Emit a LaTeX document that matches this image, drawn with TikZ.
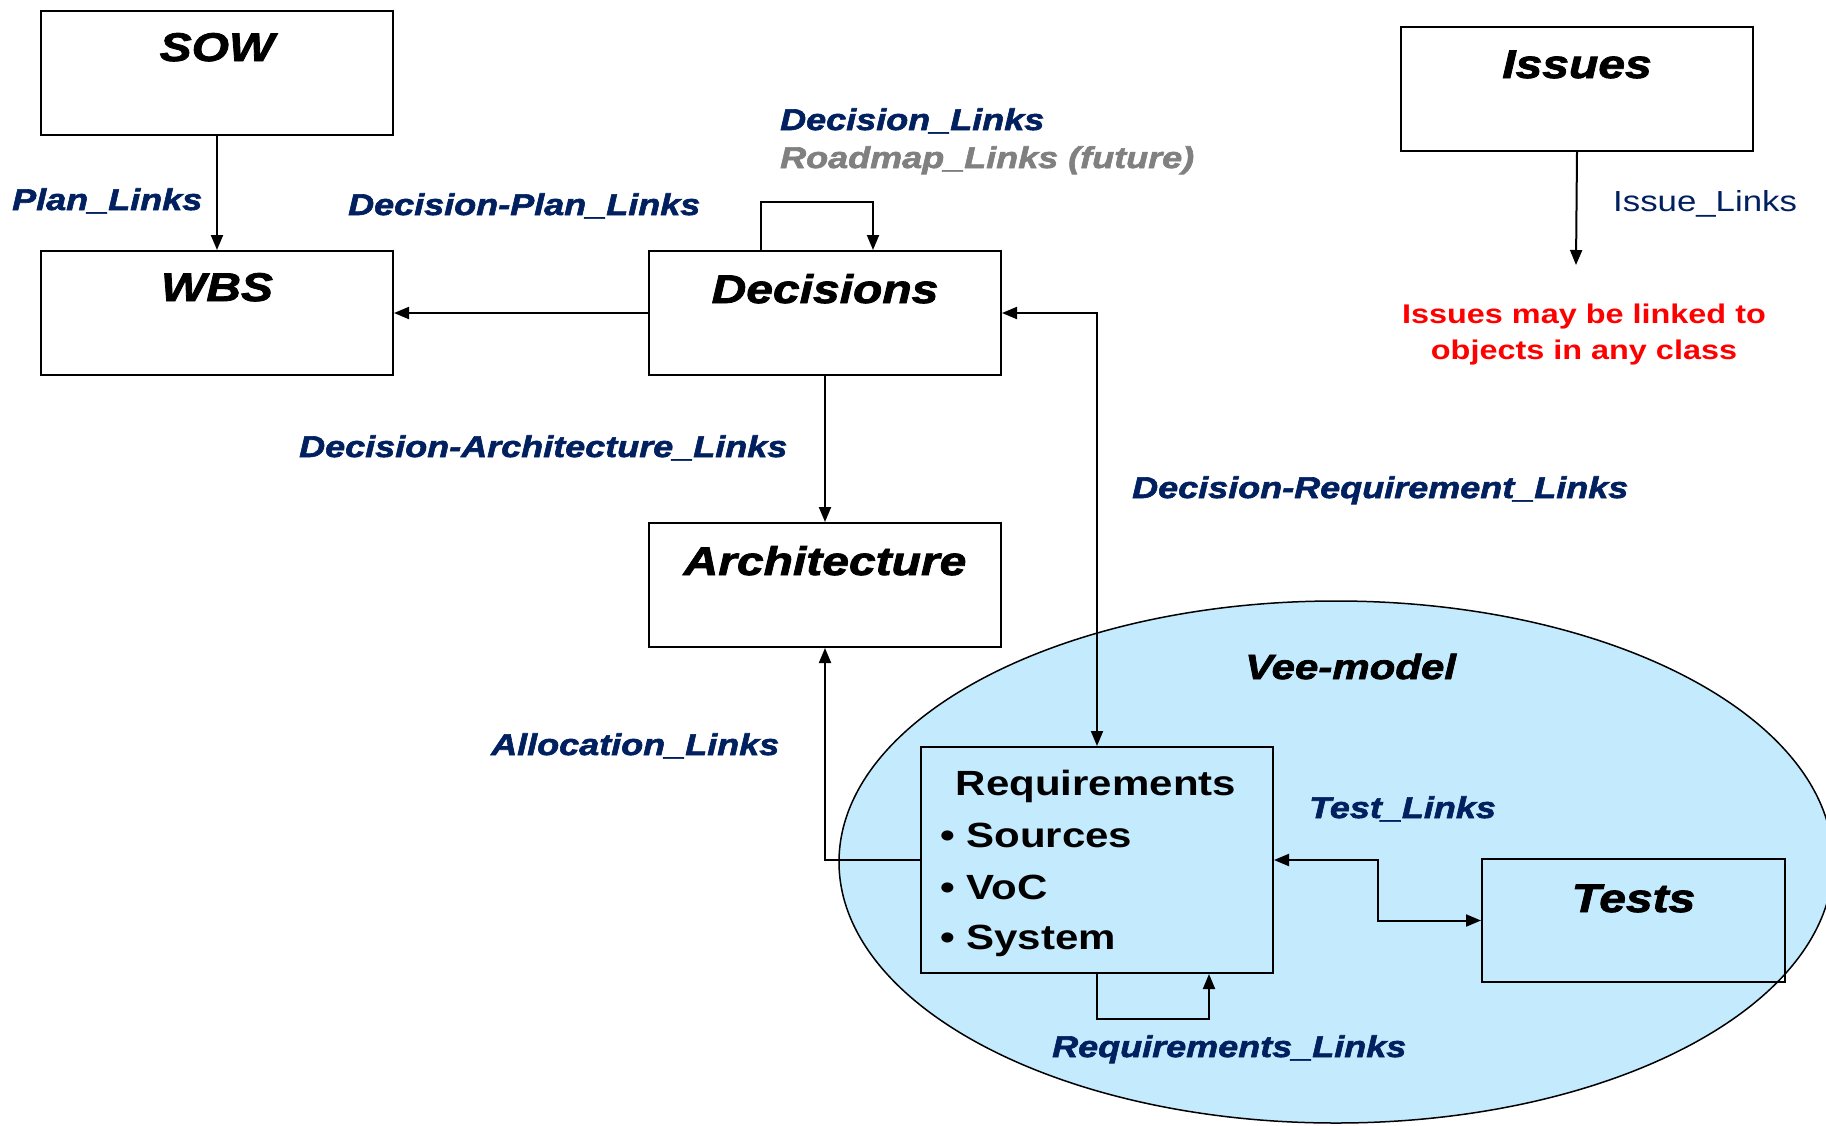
\documentclass[tikz,border=0pt]{standalone}
\usepackage{fontspec}
\setmainfont{Liberation Sans}
\newfontfamily\widesans{Liberation Sans}[FakeStretch=1.2]
\newfontfamily\heavysans{Liberation Sans}[FakeStretch=1.2,FakeBold=2]
\usetikzlibrary{arrows.meta,calc}
\definecolor{linkblue}{HTML}{002060}
\definecolor{roadgray}{HTML}{808080}
\definecolor{issuered}{HTML}{FF0000}
\definecolor{veefill}{RGB}{196,234,253}

\begin{document}
\begin{tikzpicture}[x=1pt,y=-1pt,
  box/.style={draw,line width=2pt,rectangle,inner sep=0pt,anchor=north west},
  boxtitle/.style={font=\heavysans\bfseries\itshape\fontsize{40}{48}\selectfont,inner sep=0pt,anchor=base},
  linklabel/.style={font=\heavysans\bfseries\itshape\fontsize{30}{36}\selectfont,text=linkblue,inner sep=0pt,anchor=base west},
  reqtext/.style={font=\widesans\bfseries\fontsize{35}{42}\selectfont,inner sep=0pt},
  note/.style={font=\widesans\bfseries\fontsize{27}{32}\selectfont,text=issuered,inner sep=0pt,anchor=base},
  conn/.style={line width=2pt,-{Triangle[length=15pt,width=12pt]}},
  conntwo/.style={line width=2pt,{Triangle[length=15pt,width=12pt]}-{Triangle[length=15pt,width=12pt]}}
]
\useasboundingbox (0,0) rectangle (1826,1125);
\fill[white] (0,0) rectangle (1826,1125);
\clip (0,0) rectangle (1826,1125);

% Vee-model region
\draw[fill=veefill,line width=1.5pt] (1336,862) ellipse [x radius=497, y radius=261];
\node[font=\heavysans\bfseries\itshape\fontsize{35}{42}\selectfont,inner sep=0pt,anchor=base west] (vee) at (1245,679) {Vee-model};

% class boxes
\node[box,minimum width=352pt,minimum height=124pt] (sow) at (40,10) {};
\node[box,minimum width=352pt,minimum height=124pt] (wbs) at (40,250) {};
\node[box,minimum width=352pt,minimum height=124pt] (dec) at (648,250) {};
\node[box,minimum width=352pt,minimum height=124pt] (arch) at (648,522) {};
\node[box,minimum width=352pt,minimum height=124pt] (issues) at (1400,26) {};
\node[box,minimum width=352pt,minimum height=226pt] (req) at (920,746) {};
\node[box,minimum width=303pt,minimum height=123pt] (tests) at (1481,858) {};

% box titles
\node[boxtitle] (sowt) at ($(sow.north)+(0,51)$) {SOW};
\node[boxtitle] (wbst) at ($(wbs.north)+(0,51)$) {WBS};
\node[boxtitle] (dect) at ($(dec.north)+(0,53)$) {Decisions};
\node[boxtitle] (archt) at ($(arch.north)+(0,53)$) {Architecture};
\node[boxtitle] (issuest) at ($(issues.north)+(0,52)$) {Issues};
\node[boxtitle] (testst) at ($(tests.north)+(0,54)$) {Tests};

% requirements contents
\node[reqtext,anchor=base] (reqt) at (1096,795) {Requirements};
\node[reqtext,anchor=base west] (reqa) at (940,847) {• Sources};
\node[reqtext,anchor=base west] (reqb) at (940,899) {• VoC};
\node[reqtext,anchor=base west] (reqc) at (940,949) {• System};

% connectors
\draw[conn] (sow) -- (wbs);
\draw[conn] (dec) -- (wbs);
\draw[conn] ([xshift=-64pt]dec.north) -- ++(0,-48) -| ([xshift=48pt]dec.north);
\draw[conn] (dec) -- (arch);
\draw[conntwo] (dec.east) -| (req.north);
\draw[conn] (req.west) -| (arch.south);
\draw[conntwo] (req.east) -| ($(req.east)!0.5!(tests.west)$) |- (tests.west);
\draw[conn] (req.south) -- ++(0,45) -| ([xshift=112pt]req.south);
\coordinate (issueend) at (1576,265);
\draw[conn] (issues.south) -- (issueend);

% link labels
\node[linklabel] (planl) at (12,210) {Plan\_Links};
\node[linklabel] (decplanl) at (348,215) {Decision-Plan\_Links};
\node[linklabel] (decl) at (780,130) {Decision\_Links};
\node[linklabel,text=roadgray] (roadl) at (780,168) {Roadmap\_Links (future)};
\node[font=\widesans\fontsize{29}{34}\selectfont,text=linkblue,inner sep=0pt,anchor=base west] (issuel) at (1613,211) {Issue\_Links};
\node[linklabel] (decarchl) at (299,457) {Decision-Architecture\_Links};
\node[linklabel] (decreql) at (1132,498) {Decision-Requirement\_Links};
\node[linklabel] (allocl) at (491,755) {Allocation\_Links};
\node[linklabel] (testl) at (1309,818) {Test\_Links};
\node[linklabel] (reql) at (1052,1057) {Requirements\_Links};

% note on issues
\node[note] (notea) at (1584,323) {Issues may be linked to};
\node[note] (noteb) at (1584,359) {objects in any class};
\end{tikzpicture}
\end{document}
